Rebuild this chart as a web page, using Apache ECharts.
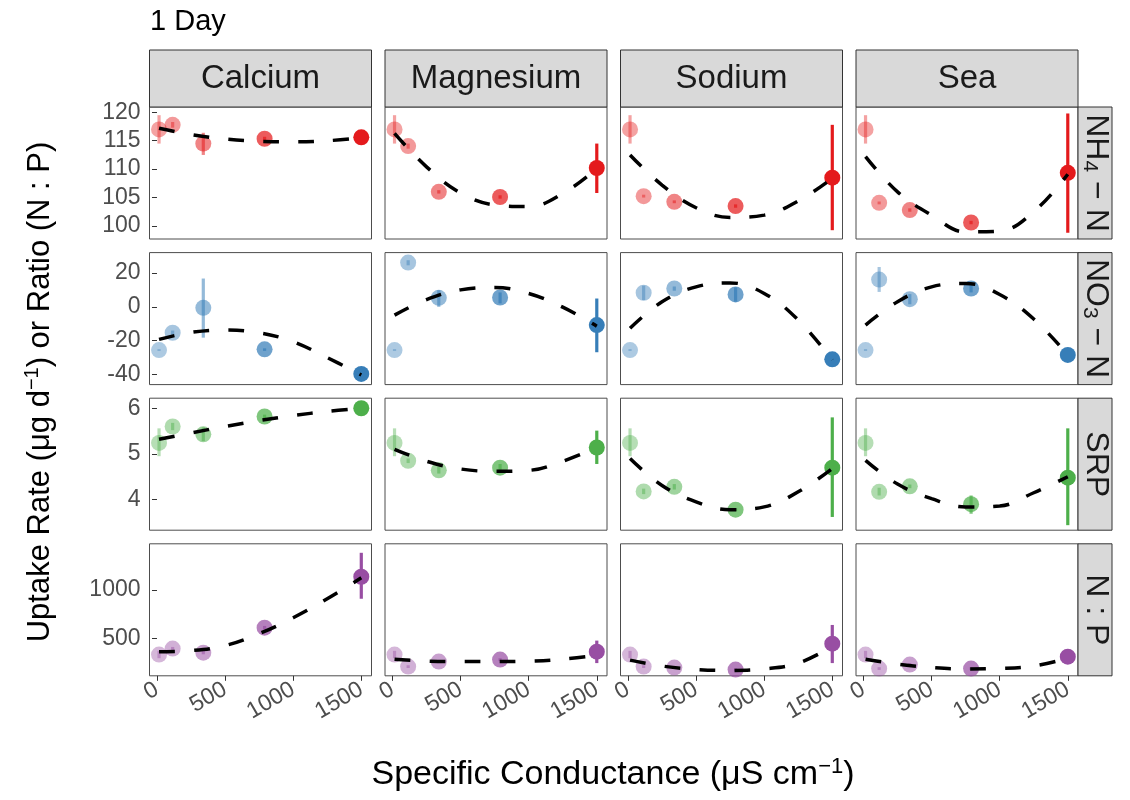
<!DOCTYPE html>
<html>
<head>
<meta charset="utf-8">
<script src="https://cdn.jsdelivr.net/npm/echarts@6/dist/echarts.min.js"></script>
<style>
  html, body { margin: 0; padding: 0; background: #fff; }
  #chart { width: 1130px; height: 800px; }
</style>
</head>
<body>
<div id="chart"></div>
<script>
// ---- data ----
const salts = ['Calcium', 'Magnesium', 'Sodium', 'Sea'];
const conductance = [15, 115, 340, 790, 1500];      // µS/cm of each treatment
const fitX = [15, 250, 500, 750, 1000, 1250, 1500]; // where the quadratic fit is sampled
const xTicks = [0, 500, 1000, 1500];

// NH4-N uptake (one row per salt)
const nh4Mean = [
  [117.0, 117.8, 114.5, 115.35, 115.6],
  [117.0, 114.06, 106.0, 105.1, 110.2],
  [117.0, 105.24, 104.25, 103.5, 108.5],
  [117.0, 104.07, 102.8, 100.6, 109.35]
];
const nh4Lo = [
  [114.5, 117.3, 112.5, 115.0, 115.4],
  [114.5, 113.6, 105.7, 104.8, 105.8],
  [114.5, 105.0, 104.0, 103.2, 99.25],
  [114.5, 103.8, 102.5, 100.3, 98.8]
];
const nh4Hi = [
  [119.5, 118.3, 116.4, 115.7, 115.8],
  [119.5, 114.5, 106.3, 105.4, 114.5],
  [119.5, 105.5, 104.5, 103.8, 117.8],
  [119.5, 104.3, 103.1, 100.9, 119.8]
];
const nh4Fit = [
  [117.2, 116.1, 115.3, 114.9, 114.8, 115.0, 115.5],
  [116.3, 110.4, 105.8, 103.7, 103.4, 105.7, 110.1],
  [112.5, 107.2, 103.2, 101.5, 101.9, 104.4, 108.4],
  [112.2, 106.0, 101.9, 98.95, 99.1, 102.5, 109.1]
];
const nh4Ticks = [100, 105, 110, 115, 120];

// NO3-N uptake
const no3Mean = [
  [-25.5, -15.3, -0.6, -25.1, -39.6],
  [-25.5, 26.1, 5.3, 5.5, -10.8],
  [-25.5, 8.3, 10.8, 7.3, -31.0],
  [-25.5, 16.1, 4.5, 10.8, -28.4]
];
const no3Lo = [
  [-26.0, -16.5, -18.2, -26.0, -40.3],
  [-26.0, 24.5, 0.0, 2.0, -26.8],
  [-26.0, 4.0, 9.5, 3.0, -31.5],
  [-26.0, 8.8, 1.5, 8.5, -29.5]
];
const no3Hi = [
  [-25.0, -14.0, 16.7, -24.5, -39.0],
  [-25.0, 27.5, 9.8, 8.5, 4.9],
  [-25.0, 12.5, 12.0, 11.5, -30.5],
  [-25.0, 23.5, 7.5, 13.0, -27.3]
];
const no3Fit = [
  [-19.2, -15.1, -13.7, -15.3, -20.6, -30.0, -40.2],
  [-4.9, 4.3, 10.0, 11.4, 7.9, -0.2, -11.4],
  [-12.7, 3.0, 11.8, 14.1, 7.9, -7.8, -31.4],
  [-10.8, 3.0, 11.8, 13.8, 7.3, -7.2, -28.4]
];
const no3Ticks = [-40, -20, 0, 20];

// SRP uptake
const srpMean = [
  [5.24, 5.60, 5.43, 5.82, 6.0],
  [5.24, 4.85, 4.64, 4.70, 5.14],
  [5.24, 4.18, 4.28, 3.78, 4.70],
  [5.24, 4.17, 4.29, 3.90, 4.48]
];
const srpLo = [
  [4.95, 5.52, 5.28, 5.78, 5.98],
  [4.95, 4.80, 4.57, 4.62, 4.78],
  [4.95, 4.12, 4.22, 3.75, 3.62],
  [4.95, 4.09, 4.25, 3.69, 3.44]
];
const srpHi = [
  [5.56, 5.68, 5.58, 5.86, 6.02],
  [5.56, 4.90, 4.72, 4.78, 5.51],
  [5.56, 4.24, 4.34, 3.81, 5.80],
  [5.56, 4.26, 4.33, 4.09, 5.56]
];
const srpFit = [
  [5.32, 5.46, 5.60, 5.73, 5.84, 5.93, 6.0],
  [5.10, 4.84, 4.67, 4.62, 4.64, 4.84, 5.14],
  [4.90, 4.31, 3.95, 3.78, 3.84, 4.17, 4.68],
  [4.86, 4.34, 4.02, 3.84, 3.86, 4.15, 4.50]
];
const srpTicks = [4, 5, 6];

// N:P uptake ratio
const npMean = [
  [337, 398, 357, 612, 1133],
  [337, 214, 265, 286, 367],
  [337, 214, 204, 184, 449],
  [337, 194, 235, 194, 316]
];
const npLo = [
  [300, 380, 340, 595, 908],
  [300, 200, 250, 270, 250],
  [300, 200, 190, 170, 250],
  [300, 180, 220, 180, 290]
];
const npHi = [
  [375, 415, 375, 630, 1378],
  [375, 228, 280, 300, 480],
  [375, 228, 218, 198, 640],
  [375, 208, 250, 208, 340]
];
const npFit = [
  [367, 378, 429, 551, 714, 908, 1122],
  [290, 270, 265, 265, 270, 290, 330],
  [280, 220, 185, 175, 190, 250, 420],
  [290, 240, 205, 190, 195, 220, 300]
];
const npTicks = [500, 1000];

// ---- layout & style ----
const FONT = '"Liberation Sans", Arial, sans-serif';
const PANEL_W = 222, PANEL_H = 132;
const colLeft = c => 149.5 + c * 235.5;
const rowTop = r => 107 + r * 145.6;
const STRIP_TOP = 50;
const RSTRIP_W = 34;

const rows = [
  { mean: nh4Mean, lo: nh4Lo, hi: nh4Hi, fit: nh4Fit, ticks: nh4Ticks, min: 97.7, max: 120.94, color: '#E41A1C',
    label: '{a|NH}{s|4}{a| − N}' },
  { mean: no3Mean, lo: no3Lo, hi: no3Hi, fit: no3Fit, ticks: no3Ticks, min: -45.9, max: 32, color: '#377EB8',
    label: '{a|NO}{s|3}{a| − N}' },
  { mean: srpMean, lo: srpLo, hi: srpHi, fit: srpFit, ticks: srpTicks, min: 3.33, max: 6.22, color: '#4DAF4A',
    label: '{a|SRP}' },
  { mean: npMean, lo: npLo, hi: npHi, fit: npFit, ticks: npTicks, min: 120, max: 1470, color: '#984EA3',
    label: '{a|N : P}' }
];

// transparency grows with conductance
const alphaFor = x => 0.4 + 0.6 * x / 1500;
const plain = v => String(v);

const grids = [], xAxes = [], yAxes = [], series = [], graphics = [];

rows.forEach((row, r) => {
  salts.forEach((salt, c) => {
    const idx = r * 4 + c;
    grids.push({
      left: colLeft(c), top: rowTop(r), width: PANEL_W, height: PANEL_H,
      show: true, borderColor: '#4d4d4d', borderWidth: 1, backgroundColor: '#fff',
      containLabel: false
    });
    xAxes.push({
      gridIndex: idx, type: 'value', min: -55, max: 1575,
      axisLine: { show: false }, splitLine: { show: false },
      axisTick: { show: r === 3, customValues: xTicks, length: 5, lineStyle: { color: '#333', width: 1 } },
      axisLabel: { show: r === 3, customValues: xTicks, formatter: plain, rotate: 30, fontSize: 23,
        color: '#4d4d4d', fontFamily: FONT, margin: 12 }
    });
    yAxes.push({
      gridIndex: idx, type: 'value', min: row.min, max: row.max,
      axisLine: { show: false }, splitLine: { show: false },
      axisTick: { show: c === 0, customValues: row.ticks, length: 5, lineStyle: { color: '#333', width: 1 } },
      axisLabel: { show: c === 0, customValues: row.ticks, formatter: plain, fontSize: 23,
        color: '#4d4d4d', fontFamily: FONT, margin: 9 }
    });

    // error bars
    series.push({
      type: 'custom', xAxisIndex: idx, yAxisIndex: idx, silent: true, z: 2,
      data: conductance.map((x, i) => [x, row.lo[c][i], row.hi[c][i]]),
      renderItem: (params, api) => {
        const a = api.coord([api.value(0), api.value(1)]);
        const b = api.coord([api.value(0), api.value(2)]);
        return {
          type: 'line',
          shape: { x1: a[0], y1: a[1], x2: b[0], y2: b[1] },
          style: { stroke: row.color, lineWidth: 3.2, opacity: alphaFor(api.value(0)) }
        };
      }
    });
    // means
    series.push({
      type: 'scatter', xAxisIndex: idx, yAxisIndex: idx, silent: true, z: 3,
      symbol: 'circle', symbolSize: 16,
      itemStyle: { color: row.color },
      data: conductance.map((x, i) => ({ value: [x, row.mean[c][i]], itemStyle: { opacity: alphaFor(x) } }))
    });
    // quadratic fit
    series.push({
      type: 'line', xAxisIndex: idx, yAxisIndex: idx, silent: true, z: 4,
      smooth: 0.4, symbol: 'none', showSymbol: false,
      lineStyle: { color: '#000', width: 3.5, type: [16, 19] },
      data: fitX.map((x, i) => [x, row.fit[c][i]])
    });
  });

  // row strip on the right
  graphics.push({
    type: 'rect', z: 10,
    shape: { x: colLeft(3) + PANEL_W, y: rowTop(r), width: RSTRIP_W, height: PANEL_H },
    style: { fill: '#D9D9D9', stroke: '#333', lineWidth: 1 }
  });
  graphics.push({
    type: 'text', z: 11,
    x: colLeft(3) + PANEL_W + RSTRIP_W / 2 + 1, y: rowTop(r) + PANEL_H / 2, rotation: -Math.PI / 2,
    style: {
      text: row.label, align: 'center', verticalAlign: 'middle', fill: '#1A1A1A',
      rich: {
        a: { fontSize: 32, fontFamily: FONT, fill: '#1A1A1A', lineHeight: 34 },
        s: { fontSize: 21, fontFamily: FONT, fill: '#1A1A1A', lineHeight: 22, verticalAlign: 'bottom' }
      }
    }
  });
});

// column strips on top
salts.forEach((salt, c) => {
  graphics.push({
    type: 'rect', z: 10,
    shape: { x: colLeft(c), y: STRIP_TOP, width: PANEL_W, height: rowTop(0) - STRIP_TOP },
    style: { fill: '#D9D9D9', stroke: '#333', lineWidth: 1 }
  });
  graphics.push({
    type: 'text', z: 11,
    x: colLeft(c) + PANEL_W / 2, y: (STRIP_TOP + rowTop(0)) / 2,
    style: { text: salt, align: 'center', verticalAlign: 'middle', fill: '#1A1A1A',
      fontSize: 33, fontFamily: FONT }
  });
});

// titles
graphics.push({
  type: 'text', x: 150, y: 22,
  style: { text: '1 Day', align: 'left', verticalAlign: 'middle', fill: '#000', fontSize: 29, fontFamily: FONT }
});
graphics.push({
  type: 'text', x: 40, y: 392, rotation: Math.PI / 2,
  style: {
    text: '{t|Uptake Rate (μg d}{u|−1}{t|) or Ratio (N : P)}', align: 'center', verticalAlign: 'middle',
    rich: {
      t: { fontSize: 31, fontFamily: FONT, fill: '#000', lineHeight: 36 },
      u: { fontSize: 20, fontFamily: FONT, fill: '#000', lineHeight: 22, verticalAlign: 'top' }
    }
  }
});
graphics.push({
  type: 'text', x: 613, y: 775,
  style: {
    text: '{t|Specific Conductance (μS cm}{u|−1}{t|)}', align: 'center', verticalAlign: 'middle',
    rich: {
      t: { fontSize: 34, fontFamily: FONT, fill: '#000', lineHeight: 38 },
      u: { fontSize: 22, fontFamily: FONT, fill: '#000', lineHeight: 24, verticalAlign: 'top' }
    }
  }
});

const chart = echarts.init(document.getElementById('chart'), null, { renderer: 'canvas', width: 1130, height: 800 });
chart.setOption({
  animation: false,
  backgroundColor: '#fff',
  grid: grids,
  xAxis: xAxes,
  yAxis: yAxes,
  series: series,
  graphic: graphics
});
</script>
</body>
</html>
